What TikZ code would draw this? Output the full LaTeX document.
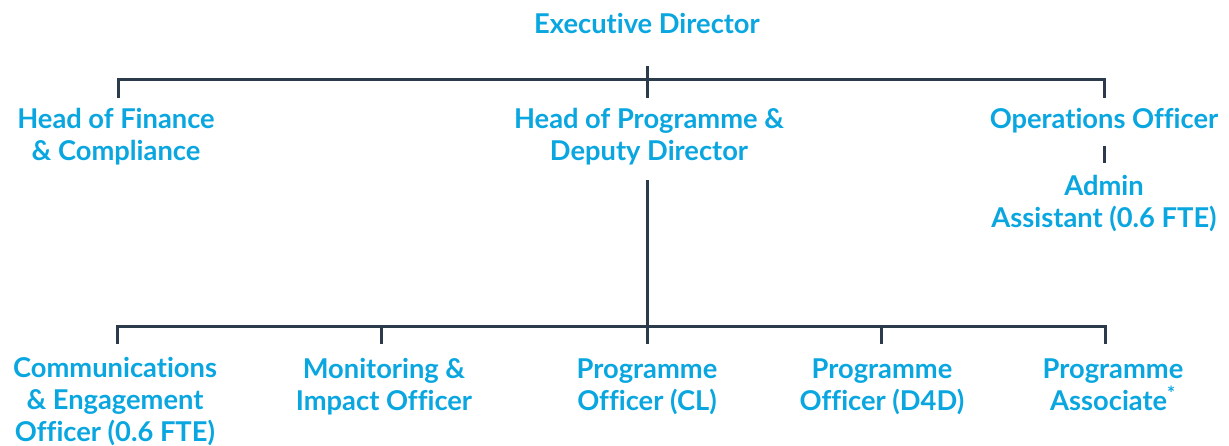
\documentclass[tikz,border=0pt]{standalone}
\usepackage{fontspec}
\setmainfont{Lato}[Ligatures=NoCommon]
\definecolor{roleblue}{HTML}{0AA6E0}
\definecolor{linknavy}{HTML}{2B3B4C}
\begin{document}
\begin{tikzpicture}[x=1pt,y=-1pt,
  role/.style={text=roleblue, font=\bfseries\fontsize{27.3}{32}\selectfont, align=center, inner sep=0pt, anchor=base},
  link/.style={draw=linknavy, line width=3pt}]
\useasboundingbox (0,0) rectangle (1229,446);

% roles (anchored on the baseline of the last line)
\node[role] (exec)  at (647,34)  {Executive Director};
\node[role] (fin)   at (116,161) {Head of Finance\\\& Compliance};
\node[role] (prog)  at (649,161) {Head of Programme \&\\Deputy Director};
\node[role] (ops)   at (1104,129) {Operations Officer};
\node[role] (admin) at (1104,228) {Admin\\Assistant (0.6 FTE)};
\node[role] (comms) at (115,441) {Communications\\\& Engagement\\Officer (0.6 FTE)};
\node[role] (mon)   at (384,410) {Monitoring \&\\Impact Officer};
\node[role] (pocl)  at (647,410) {Programme\\Officer (CL)};
\node[role] (pod)   at (882,410) {Programme\\Officer (D4D)};
\node[role] (assoc) at (1113,410) {Programme\\Associate\textsuperscript{*}};

% upper bus
\coordinate (execT) at (647,66);
\coordinate (execB) at (647,98);
\coordinate (busL)  at (118,80);
\coordinate (busR)  at (1104,80);
\coordinate (finT)  at (118,98);
\coordinate (opsT)  at (1104,98);
\draw[link] (execT) -- (execB);
\draw[link] (finT) -- (busL) -- (busR) -- (opsT);

% operations to admin
\coordinate (opsB)   at (1104,146);
\coordinate (adminT) at (1104,163);
\draw[link] (opsB) -- (adminT);

% programme trunk and lower bus
\coordinate (progB) at (647,180);
\coordinate (trunkB) at (647,344);
\coordinate (lbusL) at (117,327);
\coordinate (lbusR) at (1105,327);
\coordinate (commsT) at (117,344);
\coordinate (monT)   at (381,344);
\coordinate (podT)   at (881,344);
\coordinate (assocT) at (1105,344);
\coordinate (monJ)   at (381,327);
\coordinate (podJ)   at (881,327);
\draw[link] (progB) -- (trunkB);
\draw[link] (commsT) -- (lbusL) -- (lbusR) -- (assocT);
\draw[link] (monJ) -- (monT);
\draw[link] (podJ) -- (podT);
\end{tikzpicture}
\end{document}
